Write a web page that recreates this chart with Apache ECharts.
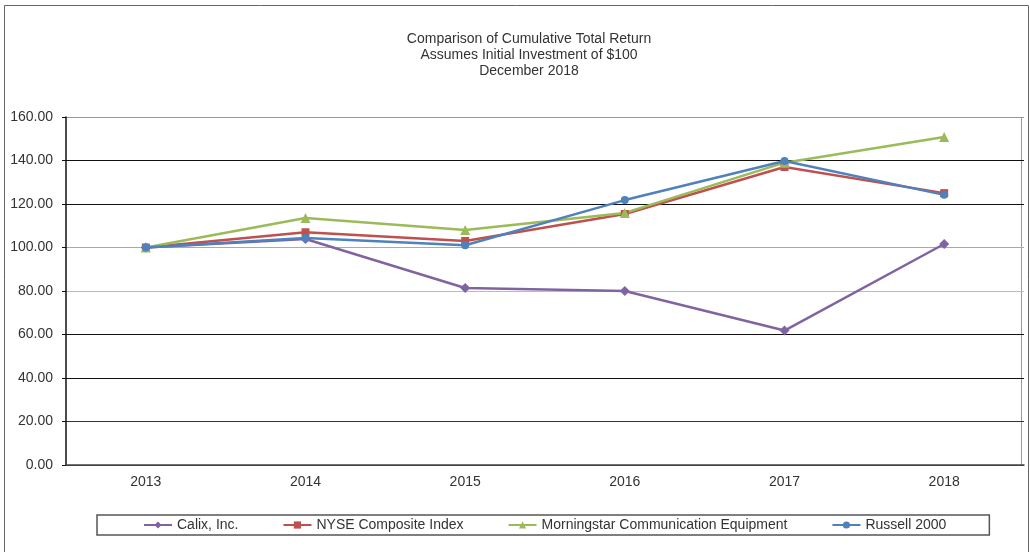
<!DOCTYPE html>
<html>
<head>
<meta charset="utf-8">
<script src="https://cdn.jsdelivr.net/npm/echarts@6/dist/echarts.min.js"></script>
<style>
  html, body { margin: 0; padding: 0; background: #fff; }
  #chart { width: 1030px; height: 552px; }
</style>
</head>
<body>
<div id="chart"></div>
<script>
// 数据
var years = ["2013", "2014", "2015", "2016", "2017", "2018"];
var calix = [100, 103.9, 81.4, 80.0, 61.8, 101.6];
var nyse = [100, 107.0, 103.0, 115.4, 137.0, 125.0];
var morningstar = [100, 113.6, 108.0, 115.9, 139.0, 150.8];
var russell = [100, 104.4, 101.0, 121.8, 139.8, 124.2];
var seriesNames = ["Calix, Inc.", "NYSE Composite Index", "Morningstar Communication Equipment", "Russell 2000"];

var myChart = echarts.init(document.getElementById("chart"));

function line(name, data, color, symbol, size) {
  return {
    name: name,
    type: "line",
    data: data,
    symbol: symbol,
    symbolSize: size,
    lineStyle: { color: color, width: 2.5 },
    itemStyle: { color: color },
    z: 3
  };
}

var option = {
  backgroundColor: "#fff",
  animation: false,
  textStyle: { fontFamily: "Liberation Sans, Arial, sans-serif" },
  // 标题
  title: {
    text: "Comparison of Cumulative Total Return\nAssumes Initial Investment of $100\nDecember 2018",
    left: 524,
    textAlign: "center",
    top: 26,
    textStyle: { fontSize: 14, fontWeight: "normal", color: "#333", lineHeight: 16 }
  },
  // 外框
  graphic: [{
    type: "rect",
    shape: { x: 4.5, y: 5.5, width: 1024, height: 560 },
    style: { fill: "none", stroke: "#666", lineWidth: 1 },
    silent: true
  }, {
    type: "line",
    shape: { x1: 1021.5, y1: 117, x2: 1021.5, y2: 465 },
    style: { stroke: "#999", lineWidth: 1 },
    silent: true
  }],
  // 图例
  legend: {
    data: seriesNames,
    left: 97,
    top: 515,
    itemGap: 44,
    padding: [3, 43, 3, 46],
    borderColor: "#555",
    borderWidth: 1.5,
    itemWidth: 28,
    itemHeight: 9,
    textStyle: { fontSize: 14, color: "#333" }
  },
  grid: {
    left: 66,
    right: 6,
    top: 117,
    bottom: 87
  },
  xAxis: {
    type: "category",
    data: years,
    axisLine: { lineStyle: { color: "#444", width: 1.5 } },
    axisTick: { alignWithLabel: true, length: 4, lineStyle: { color: "#444" } },
    axisLabel: { fontSize: 14, color: "#333", margin: 10 }
  },
  yAxis: {
    type: "value",
    min: 0,
    max: 160,
    interval: 20,
    axisLine: { show: true, lineStyle: { color: "#111", width: 1.5 } },
    axisTick: { show: true, length: 4, lineStyle: { color: "#111" } },
    axisLabel: {
      fontSize: 14,
      color: "#333",
      margin: 13,
      formatter: function (v) { return v.toFixed(2); }
    },
    splitLine: {
      lineStyle: {
        color: ["#444", "#333", "#111", "#111", "#bbb", "#aaa", "#111", "#111", "#999"],
        width: 1.2
      }
    }
  },
  series: [
    line(seriesNames[0], calix, "#8064A2", "diamond", 10),
    line(seriesNames[1], nyse, "#C0504D", "rect", 8),
    line(seriesNames[2], morningstar, "#9BBB59", "triangle", 10),
    line(seriesNames[3], russell, "#4F81BD", "circle", 8)
  ]
};

myChart.setOption(option);
</script>
</body>
</html>
